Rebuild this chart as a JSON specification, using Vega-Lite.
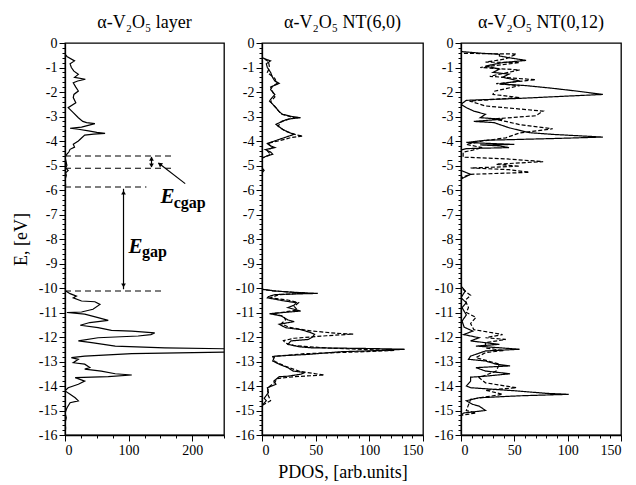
{
  "$schema": "https://vega.github.io/schema/vega-lite/v6.json",
  "background": "white",
  "padding": {"left": 11, "top": 13, "right": 4, "bottom": 4},
  "config": {
    "font": "Liberation Serif",
    "view": {"stroke": "black", "strokeWidth": 1.3},
    "axis": {"grid": false, "domainColor": "black", "tickColor": "black", "labelColor": "black", "titleColor": "black", "labelFontSize": 14, "titleFontSize": 18, "titleFontWeight": "normal", "labelFont": "Liberation Serif", "titleFont": "Liberation Serif", "labelOverlap": false, "labelPadding": 2, "domainWidth": 1.3, "tickWidth": 1},
    "style": {"guide-label": {"font": "Liberation Serif", "fontSize": 14}, "guide-title": {"font": "Liberation Serif", "fontSize": 18}},
    "title": {"fontSize": 18, "fontWeight": "normal", "font": "Liberation Serif", "color": "black", "offset": 0},
    "concat": {"spacing": 8}
  },
  "datasets": {
    "lines": [
      {"p":1,"s":"solid","E":-0.45,"v":0},{"p":1,"s":"solid","E":-0.55,"v":3},{"p":1,"s":"solid","E":-0.73,"v":15},{"p":1,"s":"solid","E":-0.85,"v":8},{"p":1,"s":"solid","E":-1.0,"v":10},{"p":1,"s":"solid","E":-1.15,"v":14},{"p":1,"s":"solid","E":-1.28,"v":21},{"p":1,"s":"solid","E":-1.4,"v":15},{"p":1,"s":"solid","E":-1.48,"v":32},{"p":1,"s":"solid","E":-1.55,"v":20},{"p":1,"s":"solid","E":-1.62,"v":13},{"p":1,"s":"solid","E":-1.8,"v":17},{"p":1,"s":"solid","E":-1.96,"v":21},{"p":1,"s":"solid","E":-2.1,"v":14},{"p":1,"s":"solid","E":-2.23,"v":13},{"p":1,"s":"solid","E":-2.44,"v":17},{"p":1,"s":"solid","E":-2.64,"v":5},{"p":1,"s":"solid","E":-2.84,"v":13},{"p":1,"s":"solid","E":-3.05,"v":21},{"p":1,"s":"solid","E":-3.2,"v":28},{"p":1,"s":"solid","E":-3.25,"v":34},{"p":1,"s":"solid","E":-3.29,"v":47},{"p":1,"s":"solid","E":-3.35,"v":38},{"p":1,"s":"solid","E":-3.43,"v":26},{"p":1,"s":"solid","E":-3.48,"v":8},{"p":1,"s":"solid","E":-3.52,"v":21},{"p":1,"s":"solid","E":-3.59,"v":37},{"p":1,"s":"solid","E":-3.65,"v":50},{"p":1,"s":"solid","E":-3.69,"v":63},{"p":1,"s":"solid","E":-3.72,"v":45},{"p":1,"s":"solid","E":-3.76,"v":31},{"p":1,"s":"solid","E":-3.88,"v":26},{"p":1,"s":"solid","E":-4.0,"v":21},{"p":1,"s":"solid","E":-4.13,"v":13},{"p":1,"s":"solid","E":-4.25,"v":15},{"p":1,"s":"solid","E":-4.34,"v":8},{"p":1,"s":"solid","E":-4.45,"v":6},{"p":1,"s":"solid","E":-4.54,"v":3},{"p":1,"s":"solid","E":-4.65,"v":0},{"p":1,"s":"solid","E":-5.0,"v":3},{"p":1,"s":"solid","E":-5.1,"v":1},{"p":1,"s":"solid","E":-5.2,"v":5},{"p":1,"s":"solid","E":-5.3,"v":1},{"p":1,"s":"solid","E":-5.4,"v":2},{"p":1,"s":"solid","E":-5.6,"v":0},{"p":1,"s":"solid","E":-5.8,"v":1},{"p":1,"s":"solid","E":-6.0,"v":0},
      {"p":1,"s":"solid","E":-10.1,"v":0},{"p":1,"s":"solid","E":-10.23,"v":8},{"p":1,"s":"solid","E":-10.33,"v":18},{"p":1,"s":"solid","E":-10.4,"v":13},{"p":1,"s":"solid","E":-10.53,"v":26},{"p":1,"s":"solid","E":-10.56,"v":47},{"p":1,"s":"solid","E":-10.67,"v":55},{"p":1,"s":"solid","E":-10.87,"v":44},{"p":1,"s":"solid","E":-10.98,"v":26},{"p":1,"s":"solid","E":-11.0,"v":3},{"p":1,"s":"solid","E":-11.07,"v":31},{"p":1,"s":"solid","E":-11.21,"v":52},{"p":1,"s":"solid","E":-11.32,"v":68},{"p":1,"s":"solid","E":-11.41,"v":39},{"p":1,"s":"solid","E":-11.52,"v":24},{"p":1,"s":"solid","E":-11.62,"v":52},{"p":1,"s":"solid","E":-11.73,"v":73},{"p":1,"s":"solid","E":-11.76,"v":105},{"p":1,"s":"solid","E":-11.83,"v":141},{"p":1,"s":"solid","E":-11.9,"v":135},{"p":1,"s":"solid","E":-11.96,"v":115},{"p":1,"s":"solid","E":-12.03,"v":52},{"p":1,"s":"solid","E":-12.16,"v":21},{"p":1,"s":"solid","E":-12.23,"v":42},{"p":1,"s":"solid","E":-12.37,"v":79},{"p":1,"s":"solid","E":-12.44,"v":157},{"p":1,"s":"solid","E":-12.5,"v":300},{"p":1,"s":"solid","E":-12.6,"v":300},{"p":1,"s":"solid","E":-12.68,"v":105},{"p":1,"s":"solid","E":-12.78,"v":31},{"p":1,"s":"solid","E":-12.84,"v":10},{"p":1,"s":"solid","E":-12.91,"v":21},{"p":1,"s":"solid","E":-13.05,"v":13},{"p":1,"s":"solid","E":-13.11,"v":31},{"p":1,"s":"solid","E":-13.25,"v":39},{"p":1,"s":"solid","E":-13.31,"v":31},{"p":1,"s":"solid","E":-13.39,"v":57},{"p":1,"s":"solid","E":-13.5,"v":79},{"p":1,"s":"solid","E":-13.55,"v":105},{"p":1,"s":"solid","E":-13.62,"v":68},{"p":1,"s":"solid","E":-13.66,"v":16},{"p":1,"s":"solid","E":-13.8,"v":31},{"p":1,"s":"solid","E":-13.93,"v":21},{"p":1,"s":"solid","E":-14.07,"v":5},{"p":1,"s":"solid","E":-14.2,"v":0},{"p":1,"s":"solid","E":-14.34,"v":8},{"p":1,"s":"solid","E":-14.48,"v":16},{"p":1,"s":"solid","E":-14.61,"v":21},{"p":1,"s":"solid","E":-14.68,"v":8},{"p":1,"s":"solid","E":-14.9,"v":3},{"p":1,"s":"solid","E":-15.1,"v":0},{"p":1,"s":"solid","E":-15.3,"v":2},{"p":1,"s":"solid","E":-15.5,"v":0},{"p":1,"s":"solid","E":-15.7,"v":1},{"p":1,"s":"solid","E":-16,"v":0},

      {"p":2,"s":"solid","E":-0.6,"v":0},{"p":2,"s":"solid","E":-0.73,"v":8},{"p":2,"s":"solid","E":-0.85,"v":4},{"p":2,"s":"solid","E":-1.0,"v":5},{"p":2,"s":"solid","E":-1.2,"v":8},{"p":2,"s":"solid","E":-1.42,"v":10},{"p":2,"s":"solid","E":-1.55,"v":12},{"p":2,"s":"solid","E":-1.65,"v":16},{"p":2,"s":"solid","E":-1.76,"v":10},{"p":2,"s":"solid","E":-1.9,"v":8},{"p":2,"s":"solid","E":-2.1,"v":12},{"p":2,"s":"solid","E":-2.25,"v":9},{"p":2,"s":"solid","E":-2.37,"v":7},{"p":2,"s":"solid","E":-2.5,"v":10},{"p":2,"s":"solid","E":-2.64,"v":13},{"p":2,"s":"solid","E":-2.8,"v":16},{"p":2,"s":"solid","E":-2.91,"v":19},{"p":2,"s":"solid","E":-3.0,"v":28},{"p":2,"s":"solid","E":-3.05,"v":36},{"p":2,"s":"solid","E":-3.1,"v":25},{"p":2,"s":"solid","E":-3.14,"v":22},{"p":2,"s":"solid","E":-3.32,"v":13},{"p":2,"s":"solid","E":-3.52,"v":19},{"p":2,"s":"solid","E":-3.65,"v":25},{"p":2,"s":"solid","E":-3.73,"v":30},{"p":2,"s":"solid","E":-3.8,"v":25},{"p":2,"s":"solid","E":-3.95,"v":15},{"p":2,"s":"solid","E":-4.1,"v":5},{"p":2,"s":"solid","E":-4.2,"v":8},{"p":2,"s":"solid","E":-4.27,"v":12},{"p":2,"s":"solid","E":-4.35,"v":3},{"p":2,"s":"solid","E":-4.45,"v":8},{"p":2,"s":"solid","E":-4.54,"v":10},{"p":2,"s":"solid","E":-4.62,"v":4},{"p":2,"s":"solid","E":-4.7,"v":0},{"p":2,"s":"solid","E":-5.1,"v":0},{"p":2,"s":"solid","E":-5.2,"v":2},{"p":2,"s":"solid","E":-5.3,"v":0},{"p":2,"s":"solid","E":-10.05,"v":0},
      {"p":2,"s":"solid","E":-10.12,"v":12},{"p":2,"s":"solid","E":-10.18,"v":30},{"p":2,"s":"solid","E":-10.22,"v":52},{"p":2,"s":"solid","E":-10.25,"v":25},{"p":2,"s":"solid","E":-10.27,"v":12},{"p":2,"s":"solid","E":-10.35,"v":6},{"p":2,"s":"solid","E":-10.4,"v":5},{"p":2,"s":"solid","E":-10.53,"v":21},{"p":2,"s":"solid","E":-10.6,"v":32},{"p":2,"s":"solid","E":-10.7,"v":30},{"p":2,"s":"solid","E":-10.8,"v":24},{"p":2,"s":"solid","E":-10.94,"v":36},{"p":2,"s":"solid","E":-11.0,"v":20},{"p":2,"s":"solid","E":-11.05,"v":7},{"p":2,"s":"solid","E":-11.14,"v":18},{"p":2,"s":"solid","E":-11.3,"v":24},{"p":2,"s":"solid","E":-11.37,"v":30},{"p":2,"s":"solid","E":-11.48,"v":16},{"p":2,"s":"solid","E":-11.62,"v":22},{"p":2,"s":"solid","E":-11.7,"v":36},{"p":2,"s":"solid","E":-11.8,"v":44},{"p":2,"s":"solid","E":-11.89,"v":49},{"p":2,"s":"solid","E":-12.0,"v":47},{"p":2,"s":"solid","E":-12.1,"v":43},{"p":2,"s":"solid","E":-12.16,"v":27},{"p":2,"s":"solid","E":-12.3,"v":24},{"p":2,"s":"solid","E":-12.4,"v":35},{"p":2,"s":"solid","E":-12.44,"v":46},{"p":2,"s":"solid","E":-12.47,"v":100},{"p":2,"s":"solid","E":-12.5,"v":133},{"p":2,"s":"solid","E":-12.55,"v":110},{"p":2,"s":"solid","E":-12.6,"v":74},{"p":2,"s":"solid","E":-12.71,"v":43},{"p":2,"s":"solid","E":-12.78,"v":12},{"p":2,"s":"solid","E":-12.98,"v":10},{"p":2,"s":"solid","E":-13.11,"v":16},{"p":2,"s":"solid","E":-13.25,"v":24},{"p":2,"s":"solid","E":-13.39,"v":29},{"p":2,"s":"solid","E":-13.45,"v":40},{"p":2,"s":"solid","E":-13.52,"v":36},{"p":2,"s":"solid","E":-13.6,"v":24},{"p":2,"s":"solid","E":-13.62,"v":16},{"p":2,"s":"solid","E":-13.8,"v":11},{"p":2,"s":"solid","E":-13.93,"v":13},{"p":2,"s":"solid","E":-14.07,"v":5},{"p":2,"s":"solid","E":-14.27,"v":6},{"p":2,"s":"solid","E":-14.5,"v":2},{"p":2,"s":"solid","E":-14.6,"v":4},{"p":2,"s":"solid","E":-14.8,"v":0},{"p":2,"s":"solid","E":-16,"v":0},

      {"p":2,"s":"dashed","E":-0.6,"v":0},{"p":2,"s":"dashed","E":-0.75,"v":6},{"p":2,"s":"dashed","E":-1.0,"v":7},{"p":2,"s":"dashed","E":-1.2,"v":5},{"p":2,"s":"dashed","E":-1.45,"v":12},{"p":2,"s":"dashed","E":-1.65,"v":14},{"p":2,"s":"dashed","E":-1.8,"v":8},{"p":2,"s":"dashed","E":-2.0,"v":10},{"p":2,"s":"dashed","E":-2.2,"v":12},{"p":2,"s":"dashed","E":-2.4,"v":8},{"p":2,"s":"dashed","E":-2.6,"v":12},{"p":2,"s":"dashed","E":-2.9,"v":18},{"p":2,"s":"dashed","E":-3.05,"v":30},{"p":2,"s":"dashed","E":-3.2,"v":18},{"p":2,"s":"dashed","E":-3.4,"v":15},{"p":2,"s":"dashed","E":-3.6,"v":22},{"p":2,"s":"dashed","E":-3.75,"v":32},{"p":2,"s":"dashed","E":-3.8,"v":38},{"p":2,"s":"dashed","E":-3.85,"v":28},{"p":2,"s":"dashed","E":-4.0,"v":15},{"p":2,"s":"dashed","E":-4.1,"v":5},{"p":2,"s":"dashed","E":-4.25,"v":10},{"p":2,"s":"dashed","E":-4.4,"v":5},{"p":2,"s":"dashed","E":-4.55,"v":8},{"p":2,"s":"dashed","E":-4.7,"v":0},{"p":2,"s":"dashed","E":-10.05,"v":0},
      {"p":2,"s":"dashed","E":-10.12,"v":10},{"p":2,"s":"dashed","E":-10.2,"v":40},{"p":2,"s":"dashed","E":-10.28,"v":15},{"p":2,"s":"dashed","E":-10.4,"v":8},{"p":2,"s":"dashed","E":-10.5,"v":25},{"p":2,"s":"dashed","E":-10.6,"v":34},{"p":2,"s":"dashed","E":-10.75,"v":30},{"p":2,"s":"dashed","E":-10.9,"v":33},{"p":2,"s":"dashed","E":-11.05,"v":10},{"p":2,"s":"dashed","E":-11.15,"v":20},{"p":2,"s":"dashed","E":-11.3,"v":22},{"p":2,"s":"dashed","E":-11.45,"v":18},{"p":2,"s":"dashed","E":-11.6,"v":25},{"p":2,"s":"dashed","E":-11.75,"v":45},{"p":2,"s":"dashed","E":-11.85,"v":70},{"p":2,"s":"dashed","E":-11.88,"v":85},{"p":2,"s":"dashed","E":-11.95,"v":60},{"p":2,"s":"dashed","E":-12.05,"v":30},{"p":2,"s":"dashed","E":-12.15,"v":20},{"p":2,"s":"dashed","E":-12.25,"v":22},{"p":2,"s":"dashed","E":-12.35,"v":30},{"p":2,"s":"dashed","E":-12.45,"v":60},{"p":2,"s":"dashed","E":-12.55,"v":123},{"p":2,"s":"dashed","E":-12.6,"v":95},{"p":2,"s":"dashed","E":-12.68,"v":40},{"p":2,"s":"dashed","E":-12.8,"v":10},{"p":2,"s":"dashed","E":-13.0,"v":12},{"p":2,"s":"dashed","E":-13.2,"v":22},{"p":2,"s":"dashed","E":-13.4,"v":35},{"p":2,"s":"dashed","E":-13.5,"v":50},{"p":2,"s":"dashed","E":-13.55,"v":58},{"p":2,"s":"dashed","E":-13.62,"v":30},{"p":2,"s":"dashed","E":-13.7,"v":14},{"p":2,"s":"dashed","E":-13.85,"v":12},{"p":2,"s":"dashed","E":-14.05,"v":6},{"p":2,"s":"dashed","E":-14.3,"v":5},{"p":2,"s":"dashed","E":-14.6,"v":8},{"p":2,"s":"dashed","E":-14.8,"v":0},{"p":2,"s":"dashed","E":-16,"v":0},

      {"p":3,"s":"solid","E":-0.35,"v":0},{"p":3,"s":"solid","E":-0.42,"v":20},{"p":3,"s":"solid","E":-0.46,"v":36},{"p":3,"s":"solid","E":-0.53,"v":36},{"p":3,"s":"solid","E":-0.6,"v":45},{"p":3,"s":"solid","E":-0.71,"v":61},{"p":3,"s":"solid","E":-0.8,"v":39},{"p":3,"s":"solid","E":-0.94,"v":23},{"p":3,"s":"solid","E":-1.07,"v":36},{"p":3,"s":"solid","E":-1.2,"v":30},{"p":3,"s":"solid","E":-1.27,"v":45},{"p":3,"s":"solid","E":-1.4,"v":39},{"p":3,"s":"solid","E":-1.55,"v":55},{"p":3,"s":"solid","E":-1.67,"v":36},{"p":3,"s":"solid","E":-1.74,"v":61},{"p":3,"s":"solid","E":-1.85,"v":86},{"p":3,"s":"solid","E":-1.96,"v":108},{"p":3,"s":"solid","E":-2.1,"v":133},{"p":3,"s":"solid","E":-2.16,"v":103},{"p":3,"s":"solid","E":-2.26,"v":55},{"p":3,"s":"solid","E":-2.34,"v":5},{"p":3,"s":"solid","E":-2.5,"v":0},{"p":3,"s":"solid","E":-2.64,"v":5},{"p":3,"s":"solid","E":-2.78,"v":12},{"p":3,"s":"solid","E":-2.91,"v":23},{"p":3,"s":"solid","E":-3.05,"v":18},{"p":3,"s":"solid","E":-3.11,"v":39},{"p":3,"s":"solid","E":-3.2,"v":12},{"p":3,"s":"solid","E":-3.25,"v":31},{"p":3,"s":"solid","E":-3.46,"v":45},{"p":3,"s":"solid","E":-3.66,"v":64},{"p":3,"s":"solid","E":-3.73,"v":86},{"p":3,"s":"solid","E":-3.84,"v":133},{"p":3,"s":"solid","E":-3.9,"v":86},{"p":3,"s":"solid","E":-3.97,"v":23},{"p":3,"s":"solid","E":-4.06,"v":5},{"p":3,"s":"solid","E":-4.14,"v":50},{"p":3,"s":"solid","E":-4.16,"v":18},{"p":3,"s":"solid","E":-4.2,"v":36},{"p":3,"s":"solid","E":-4.27,"v":45},{"p":3,"s":"solid","E":-4.31,"v":5},{"p":3,"s":"solid","E":-4.37,"v":0},{"p":3,"s":"solid","E":-5.2,"v":0},{"p":3,"s":"solid","E":-5.36,"v":9},{"p":3,"s":"solid","E":-5.55,"v":0},{"p":3,"s":"solid","E":-9.92,"v":0},
      {"p":3,"s":"solid","E":-10.12,"v":4},{"p":3,"s":"solid","E":-10.4,"v":0},{"p":3,"s":"solid","E":-10.6,"v":5},{"p":3,"s":"solid","E":-10.8,"v":1},{"p":3,"s":"solid","E":-11.1,"v":5},{"p":3,"s":"solid","E":-11.35,"v":1},{"p":3,"s":"solid","E":-11.6,"v":3},{"p":3,"s":"solid","E":-11.76,"v":11},{"p":3,"s":"solid","E":-11.9,"v":2.5},{"p":3,"s":"solid","E":-12.03,"v":17},{"p":3,"s":"solid","E":-12.16,"v":9},{"p":3,"s":"solid","E":-12.3,"v":36},{"p":3,"s":"solid","E":-12.37,"v":14},{"p":3,"s":"solid","E":-12.5,"v":55},{"p":3,"s":"solid","E":-12.57,"v":23},{"p":3,"s":"solid","E":-12.78,"v":9},{"p":3,"s":"solid","E":-12.91,"v":7},{"p":3,"s":"solid","E":-12.98,"v":23},{"p":3,"s":"solid","E":-13.11,"v":33},{"p":3,"s":"solid","E":-13.18,"v":46},{"p":3,"s":"solid","E":-13.25,"v":14},{"p":3,"s":"solid","E":-13.39,"v":23},{"p":3,"s":"solid","E":-13.5,"v":46},{"p":3,"s":"solid","E":-13.6,"v":23},{"p":3,"s":"solid","E":-13.64,"v":9},{"p":3,"s":"solid","E":-13.8,"v":9},{"p":3,"s":"solid","E":-14.0,"v":5},{"p":3,"s":"solid","E":-14.07,"v":9},{"p":3,"s":"solid","E":-14.2,"v":52},{"p":3,"s":"solid","E":-14.3,"v":80},{"p":3,"s":"solid","E":-14.34,"v":101},{"p":3,"s":"solid","E":-14.4,"v":55},{"p":3,"s":"solid","E":-14.48,"v":17},{"p":3,"s":"solid","E":-14.6,"v":5},{"p":3,"s":"solid","E":-14.75,"v":11},{"p":3,"s":"solid","E":-14.82,"v":17},{"p":3,"s":"solid","E":-15.0,"v":23},{"p":3,"s":"solid","E":-15.1,"v":2.5},{"p":3,"s":"solid","E":-15.2,"v":0},{"p":3,"s":"solid","E":-16,"v":0},

      {"p":3,"s":"dashed","E":-0.42,"v":0},{"p":3,"s":"dashed","E":-0.45,"v":52},{"p":3,"s":"dashed","E":-0.65,"v":42},{"p":3,"s":"dashed","E":-0.78,"v":23},{"p":3,"s":"dashed","E":-0.8,"v":55},{"p":3,"s":"dashed","E":-1.0,"v":18},{"p":3,"s":"dashed","E":-1.1,"v":55},{"p":3,"s":"dashed","E":-1.36,"v":27},{"p":3,"s":"dashed","E":-1.5,"v":70},{"p":3,"s":"dashed","E":-1.66,"v":33},{"p":3,"s":"dashed","E":-1.74,"v":55},{"p":3,"s":"dashed","E":-1.97,"v":31},{"p":3,"s":"dashed","E":-2.1,"v":30},{"p":3,"s":"dashed","E":-2.23,"v":55},{"p":3,"s":"dashed","E":-2.37,"v":8},{"p":3,"s":"dashed","E":-2.57,"v":23},{"p":3,"s":"dashed","E":-2.78,"v":77},{"p":3,"s":"dashed","E":-2.97,"v":70},{"p":3,"s":"dashed","E":-3.1,"v":30},{"p":3,"s":"dashed","E":-3.2,"v":42},{"p":3,"s":"dashed","E":-3.33,"v":55},{"p":3,"s":"dashed","E":-3.5,"v":86},{"p":3,"s":"dashed","E":-3.67,"v":55},{"p":3,"s":"dashed","E":-3.87,"v":42},{"p":3,"s":"dashed","E":-4.0,"v":20},{"p":3,"s":"dashed","E":-4.14,"v":5},{"p":3,"s":"dashed","E":-4.27,"v":20},{"p":3,"s":"dashed","E":-4.37,"v":11},{"p":3,"s":"dashed","E":-4.46,"v":2},{"p":3,"s":"dashed","E":-4.66,"v":2},{"p":3,"s":"dashed","E":-4.73,"v":42},{"p":3,"s":"dashed","E":-4.84,"v":77},{"p":3,"s":"dashed","E":-4.95,"v":33},{"p":3,"s":"dashed","E":-5.03,"v":55},{"p":3,"s":"dashed","E":-5.1,"v":9},{"p":3,"s":"dashed","E":-5.17,"v":45},{"p":3,"s":"dashed","E":-5.28,"v":64},{"p":3,"s":"dashed","E":-5.36,"v":9},{"p":3,"s":"dashed","E":-5.5,"v":0},{"p":3,"s":"dashed","E":-9.95,"v":0},
      {"p":3,"s":"dashed","E":-10.1,"v":3},{"p":3,"s":"dashed","E":-10.3,"v":9},{"p":3,"s":"dashed","E":-10.5,"v":4},{"p":3,"s":"dashed","E":-10.8,"v":7},{"p":3,"s":"dashed","E":-11.0,"v":5},{"p":3,"s":"dashed","E":-11.2,"v":14},{"p":3,"s":"dashed","E":-11.45,"v":9},{"p":3,"s":"dashed","E":-11.7,"v":12},{"p":3,"s":"dashed","E":-11.9,"v":39},{"p":3,"s":"dashed","E":-12.03,"v":23},{"p":3,"s":"dashed","E":-12.1,"v":42},{"p":3,"s":"dashed","E":-12.23,"v":23},{"p":3,"s":"dashed","E":-12.45,"v":23},{"p":3,"s":"dashed","E":-12.55,"v":40},{"p":3,"s":"dashed","E":-12.64,"v":23},{"p":3,"s":"dashed","E":-12.84,"v":14},{"p":3,"s":"dashed","E":-13.11,"v":36},{"p":3,"s":"dashed","E":-13.39,"v":33},{"p":3,"s":"dashed","E":-13.66,"v":17},{"p":3,"s":"dashed","E":-13.87,"v":23},{"p":3,"s":"dashed","E":-14.07,"v":52},{"p":3,"s":"dashed","E":-14.17,"v":23},{"p":3,"s":"dashed","E":-14.34,"v":39},{"p":3,"s":"dashed","E":-14.54,"v":9},{"p":3,"s":"dashed","E":-15.0,"v":5},{"p":3,"s":"dashed","E":-15.1,"v":14},{"p":3,"s":"dashed","E":-15.2,"v":0},{"p":3,"s":"dashed","E":-16,"v":0}
    ],
    "levels": [
      {"E": -4.61, "v": 0, "v2": 170},
      {"E": -5.11, "v": 0, "v2": 170},
      {"E": -5.88, "v": 0, "v2": 128},
      {"E": -10.12, "v": 0, "v2": 152}
    ],
    "arrows": [
      {"v": 136, "v2": 136, "E": -4.66, "E2": -5.06},
      {"v": 92, "v2": 92, "E": -5.95, "E2": -10.05},
      {"v": 189, "v2": 147, "E": -5.74, "E2": -4.9}
    ],
    "headsUp": [{"v": 136, "E": -4.72}, {"v": 92, "E": -6.1}],
    "headsDown": [{"v": 136, "E": -5.0}, {"v": 92, "E": -9.9}],
    "headsDiag": [{"v": 149, "E": -4.94}],
    "bigLabels": [{"v": 150, "E": -6.55, "t": "E"}, {"v": 100, "E": -8.57, "t": "E"}],
    "subLabels": [{"v": 171, "E": -6.72, "t": "cgap"}, {"v": 121, "E": -8.75, "t": "gap"}]
  },
  "hconcat": [
    {
      "width": 159,
      "height": 392,
      "title": {"text": "α-V₂O₅ layer"},
      "encoding": {
        "x": {"field": "v", "type": "quantitative", "scale": {"domain": [0, 250], "nice": false, "zero": false},
              "axis": {"title": null, "labelFont": "Liberation Serif", "labelFontSize": 14, "values": [0,25,50,75,100,125,150,175,200,225,250],
                       "labelExpr": "datum.value % 100 === 0 ? '' + datum.value : ''",
                       "tickSize": {"condition": {"test": "datum.value % 100 === 0", "value": 6}, "value": 3}}},
        "y": {"field": "E", "type": "quantitative", "scale": {"domain": [-16, 0], "nice": false, "zero": false},
              "axis": {"title": "E, [eV]", "titlePadding": 8, "titleFont": "Liberation Serif", "labelFont": "Liberation Serif", "labelFontSize": 14,
                       "values": [-16,-15.8,-15.6,-15.4,-15.2,-15,-14.8,-14.6,-14.4,-14.2,-14,-13.8,-13.6,-13.4,-13.2,-13,-12.8,-12.6,-12.4,-12.2,-12,-11.8,-11.6,-11.4,-11.2,-11,-10.8,-10.6,-10.4,-10.2,-10,-9.8,-9.6,-9.4,-9.2,-9,-8.8,-8.6,-8.4,-8.2,-8,-7.8,-7.6,-7.4,-7.2,-7,-6.8,-6.6,-6.4,-6.2,-6,-5.8,-5.6,-5.4,-5.2,-5,-4.8,-4.6,-4.4,-4.2,-4,-3.8,-3.6,-3.4,-3.2,-3,-2.8,-2.6,-2.4,-2.2,-2,-1.8,-1.6,-1.4,-1.2,-1,-0.8,-0.6,-0.4,-0.2,0],
                       "labelExpr": "abs(datum.value - round(datum.value)) < 0.001 ? '' + round(datum.value) : ''",
                       "tickSize": {"condition": {"test": "abs(datum.value - round(datum.value)) < 0.001", "value": 6}, "value": 3}}}
      },
      "layer": [
        {"data": {"name": "lines"}, "transform": [{"filter": "datum.p === 1"}],
         "mark": {"type": "line", "color": "black", "strokeWidth": 1.2, "clip": true},
         "encoding": {"order": {"field": "E", "type": "quantitative"}}},
        {"data": {"name": "levels"},
         "mark": {"type": "rule", "color": "black", "strokeWidth": 1.1, "strokeDash": [6, 4]},
         "encoding": {"x2": {"field": "v2"}}},
        {"data": {"name": "arrows"},
         "mark": {"type": "rule", "color": "black", "strokeWidth": 1.2},
         "encoding": {"x2": {"field": "v2"}, "y2": {"field": "E2"}}},
        {"data": {"name": "headsUp"},
         "mark": {"type": "point", "shape": "triangle-up", "filled": true, "color": "black", "size": 22, "opacity": 1},
         "encoding": {}},
        {"data": {"name": "headsDown"},
         "mark": {"type": "point", "shape": "triangle-down", "filled": true, "color": "black", "size": 22, "opacity": 1},
         "encoding": {}},
        {"data": {"name": "headsDiag"},
         "mark": {"type": "point", "shape": "triangle-up", "filled": true, "color": "black", "size": 26, "opacity": 1, "angle": -53},
         "encoding": {}},
        {"data": {"name": "bigLabels"},
         "mark": {"type": "text", "font": "Liberation Serif", "fontSize": 21, "fontWeight": "bold", "fontStyle": "italic", "align": "left", "baseline": "alphabetic", "color": "black"},
         "encoding": {"text": {"field": "t"}}},
        {"data": {"name": "subLabels"},
         "mark": {"type": "text", "font": "Liberation Serif", "fontSize": 16, "fontWeight": "bold", "align": "left", "baseline": "alphabetic", "color": "black"},
         "encoding": {"text": {"field": "t"}}}
      ]
    },
    {
      "width": 161,
      "height": 392,
      "title": {"text": "α-V₂O₅ NT(6,0)"},
      "data": {"name": "lines"},
      "transform": [{"filter": "datum.p === 2"}],
      "mark": {"type": "line", "color": "black", "strokeWidth": 1.2, "clip": true},
      "encoding": {
        "x": {"field": "v", "type": "quantitative", "scale": {"domain": [0, 150], "nice": false, "zero": false},
              "axis": {"title": "PDOS, [arb.units]", "titlePadding": 6, "titleFont": "Liberation Serif", "labelFont": "Liberation Serif", "labelFontSize": 14, "values": [0,10,20,30,40,50,60,70,80,90,100,110,120,130,140,150],
                       "labelExpr": "datum.value % 50 === 0 ? '' + datum.value : ''",
                       "tickSize": {"condition": {"test": "datum.value % 50 === 0", "value": 6}, "value": 3}}},
        "y": {"field": "E", "type": "quantitative", "scale": {"domain": [-16, 0], "nice": false, "zero": false},
              "axis": {"title": null, "labelFont": "Liberation Serif", "labelFontSize": 14,
                       "values": [-16,-15.8,-15.6,-15.4,-15.2,-15,-14.8,-14.6,-14.4,-14.2,-14,-13.8,-13.6,-13.4,-13.2,-13,-12.8,-12.6,-12.4,-12.2,-12,-11.8,-11.6,-11.4,-11.2,-11,-10.8,-10.6,-10.4,-10.2,-10,-9.8,-9.6,-9.4,-9.2,-9,-8.8,-8.6,-8.4,-8.2,-8,-7.8,-7.6,-7.4,-7.2,-7,-6.8,-6.6,-6.4,-6.2,-6,-5.8,-5.6,-5.4,-5.2,-5,-4.8,-4.6,-4.4,-4.2,-4,-3.8,-3.6,-3.4,-3.2,-3,-2.8,-2.6,-2.4,-2.2,-2,-1.8,-1.6,-1.4,-1.2,-1,-0.8,-0.6,-0.4,-0.2,0],
                       "labelExpr": "abs(datum.value - round(datum.value)) < 0.001 ? '' + round(datum.value) : ''",
                       "tickSize": {"condition": {"test": "abs(datum.value - round(datum.value)) < 0.001", "value": 6}, "value": 3}}},
        "strokeDash": {"field": "s", "type": "nominal", "scale": {"domain": ["solid", "dashed"], "range": [[1, 0], [4, 2]]}, "legend": null},
        "order": {"field": "E", "type": "quantitative"}
      }
    },
    {
      "width": 160,
      "height": 392,
      "title": {"text": "α-V₂O₅ NT(0,12)"},
      "data": {"name": "lines"},
      "transform": [{"filter": "datum.p === 3"}],
      "mark": {"type": "line", "color": "black", "strokeWidth": 1.2, "clip": true},
      "encoding": {
        "x": {"field": "v", "type": "quantitative", "scale": {"domain": [0, 150], "nice": false, "zero": false},
              "axis": {"title": null, "labelFont": "Liberation Serif", "labelFontSize": 14, "values": [0,10,20,30,40,50,60,70,80,90,100,110,120,130,140,150],
                       "labelExpr": "datum.value % 50 === 0 ? '' + datum.value : ''",
                       "tickSize": {"condition": {"test": "datum.value % 50 === 0", "value": 6}, "value": 3}}},
        "y": {"field": "E", "type": "quantitative", "scale": {"domain": [-16, 0], "nice": false, "zero": false},
              "axis": {"title": null, "labelFont": "Liberation Serif", "labelFontSize": 14,
                       "values": [-16,-15.8,-15.6,-15.4,-15.2,-15,-14.8,-14.6,-14.4,-14.2,-14,-13.8,-13.6,-13.4,-13.2,-13,-12.8,-12.6,-12.4,-12.2,-12,-11.8,-11.6,-11.4,-11.2,-11,-10.8,-10.6,-10.4,-10.2,-10,-9.8,-9.6,-9.4,-9.2,-9,-8.8,-8.6,-8.4,-8.2,-8,-7.8,-7.6,-7.4,-7.2,-7,-6.8,-6.6,-6.4,-6.2,-6,-5.8,-5.6,-5.4,-5.2,-5,-4.8,-4.6,-4.4,-4.2,-4,-3.8,-3.6,-3.4,-3.2,-3,-2.8,-2.6,-2.4,-2.2,-2,-1.8,-1.6,-1.4,-1.2,-1,-0.8,-0.6,-0.4,-0.2,0],
                       "labelExpr": "abs(datum.value - round(datum.value)) < 0.001 ? '' + round(datum.value) : ''",
                       "tickSize": {"condition": {"test": "abs(datum.value - round(datum.value)) < 0.001", "value": 6}, "value": 3}}},
        "strokeDash": {"field": "s", "type": "nominal", "scale": {"domain": ["solid", "dashed"], "range": [[1, 0], [4, 2]]}, "legend": null},
        "order": {"field": "E", "type": "quantitative"}
      }
    }
  ]
}
